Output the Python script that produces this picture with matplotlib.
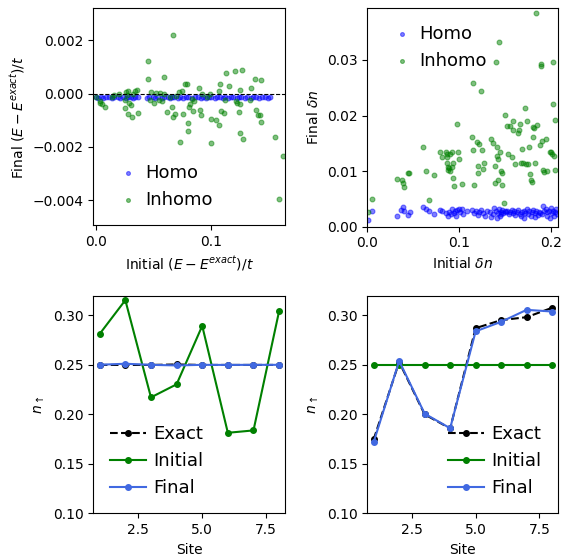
import matplotlib
matplotlib.use("Agg")
import matplotlib.pyplot as plt
import numpy as np

# ---- Top-left: energy errors ----
homo_E_init = [0.000, 0.002, 0.004, 0.006, 0.009, 0.011, 0.014, 0.016, 0.019, 0.021,
               0.023, 0.026, 0.028, 0.030, 0.032, 0.034, 0.036, 0.044, 0.046, 0.049,
               0.051, 0.054, 0.057, 0.059, 0.062, 0.064, 0.066, 0.068, 0.071, 0.073,
               0.075, 0.078, 0.080, 0.083, 0.086, 0.088, 0.091, 0.093, 0.095, 0.098,
               0.100, 0.103, 0.105, 0.107, 0.110, 0.112, 0.114, 0.117, 0.119, 0.122,
               0.124, 0.126, 0.129, 0.131, 0.134, 0.136, 0.139, 0.141, 0.144, 0.146,
               0.149, 0.151]
homo_E_final = [-0.00014, -0.00016, -0.00013, -0.00017, -0.00015, -0.00014, -0.00016, -0.00013,
                -0.00015, -0.00017, -0.00014, -0.00016, -0.00015, -0.00013, -0.00016, -0.00014,
                -0.00015, -0.00016, -0.00013, -0.00015, -0.00017, -0.00014, -0.00016, -0.00015,
                -0.00013, -0.00016, -0.00014, -0.00015, -0.00017, -0.00013, -0.00016, -0.00014,
                -0.00015, -0.00016, -0.00013, -0.00015, -0.00017, -0.00014, -0.00016, -0.00015,
                -0.00013, -0.00016, -0.00014, -0.00015, -0.00017, -0.00013, -0.00016, -0.00014,
                -0.00015, -0.00016, -0.00013, -0.00015, -0.00017, -0.00014, -0.00016, -0.00015,
                -0.00013, -0.00016, -0.00014, -0.00015, -0.00016, -0.00014]
inhomo_E_init = [0.0000, 0.0032, 0.0052, 0.0075, 0.0037, 0.0138, 0.0153, 0.0196, 0.0248, 0.0262,
                 0.0277, 0.0268, 0.0282, 0.0254, 0.0277, 0.0311, 0.0303, 0.0317, 0.0340, 0.0354,
                 0.0363, 0.0450, 0.0447, 0.0470, 0.0476, 0.0504, 0.0522, 0.0542, 0.0556, 0.0571,
                 0.0585, 0.0591, 0.0614, 0.0643, 0.0657, 0.0663, 0.0671, 0.0686, 0.0695, 0.0720,
                 0.0729, 0.0744, 0.0758, 0.0772, 0.0787, 0.0795, 0.0801, 0.0807, 0.0816, 0.0830,
                 0.0844, 0.0893, 0.0902, 0.0908, 0.0922, 0.0965, 0.0986, 0.0850, 0.1000, 0.1037,
                 0.1066, 0.0994, 0.1086, 0.1110, 0.1130, 0.1202, 0.1265, 0.1072, 0.1063, 0.1150,
                 0.1121, 0.1216, 0.1245, 0.1225, 0.1245, 0.1236, 0.1346, 0.1380, 0.1432, 0.1331,
                 0.1389, 0.1418, 0.1403, 0.1427, 0.1245, 0.1274, 0.1553, 0.1620, 0.1582]
inhomo_E_final = [-0.000125, -0.00035, -0.0004, -0.0005, -0.0003, -0.000125, -0.00004, 0.0, -0.00025, 0.00006,
                  0.0001, -0.00006, -0.000375, -0.00056, -0.00078, -0.000875, -0.00044, 0.0, 0.0001, 0.00015,
                  -0.00075, 0.00121, 0.00054, -0.00025, 0.00006, -0.00035, 0.00003, -0.00025, 0.00003, -0.0003,
                  0.000625, -0.00003, -0.00069, -0.000125, -0.000525, -0.000875, 0.00221, -0.00078, -0.0001, 0.00006,
                  -0.00181, 0.0001, -0.00078, 0.000375, 0.00035, -0.001125, -0.0014, -0.0005, -0.0004, -0.000225,
                  -0.00065, 0.000225, -0.000625, -0.00081, 0.0, -0.000125, 0.0, -0.0003, -0.00096, -0.001,
                  -0.00119, -0.001875, -0.00065, -0.000725, 0.000775, 0.00085, 0.000875, 0.00034, 0.0001, 0.0003,
                  -0.00025, -0.0003, 0.000125, -0.000375, -0.0004, -0.00071, 0.00019, 0.00056, 0.0005, -0.00025,
                  -0.000625, -0.00081, -0.00079, -0.00106, -0.0015, -0.001725, -0.00165, -0.00235, -0.003975]

# ---- Top-right: density errors ----
homo_dn_init = [0.001, 0.005, 0.032, 0.037, 0.039, 0.040, 0.044, 0.046, 0.061, 0.064,
                0.067, 0.073, 0.079, 0.081, 0.086, 0.088, 0.089, 0.091, 0.092, 0.094,
                0.095, 0.097, 0.098, 0.100, 0.101, 0.103, 0.104, 0.108, 0.114, 0.116,
                0.118, 0.120, 0.122, 0.124, 0.126, 0.128, 0.130, 0.133, 0.135, 0.137,
                0.138, 0.140, 0.141, 0.142, 0.143, 0.144, 0.145, 0.146, 0.147, 0.148,
                0.150, 0.151, 0.152, 0.154, 0.155, 0.157, 0.158, 0.160, 0.161, 0.163,
                0.164, 0.166, 0.167, 0.168, 0.170, 0.171, 0.172, 0.174, 0.175, 0.176,
                0.178, 0.179, 0.180, 0.182, 0.183, 0.184, 0.186, 0.187, 0.188, 0.190,
                0.191, 0.192, 0.194, 0.195, 0.196, 0.198, 0.199, 0.200, 0.201, 0.202,
                0.203, 0.204, 0.205, 0.206]
homo_dn_final = [0.0012, 0.0028, 0.0019, 0.0030, 0.0035, 0.0029, 0.0021, 0.0026, 0.0035, 0.0031,
                 0.0028, 0.0022, 0.0030, 0.0029, 0.0024, 0.0019, 0.0027, 0.0022, 0.0031, 0.0025,
                 0.0028, 0.0020, 0.0030, 0.0032, 0.0026, 0.0031, 0.0023, 0.0029, 0.0030, 0.0025,
                 0.0028, 0.0021, 0.0027, 0.0030, 0.0024, 0.0019, 0.0028, 0.0026, 0.0017, 0.0022,
                 0.0033, 0.0029, 0.0015, 0.0024, 0.0031, 0.0019, 0.0027, 0.0022, 0.0030, 0.0025,
                 0.0028, 0.0026, 0.0029, 0.0023, 0.0027, 0.0030, 0.0024, 0.0028, 0.0021, 0.0026,
                 0.0030, 0.0023, 0.0019, 0.0027, 0.0029, 0.0016, 0.0025, 0.0031, 0.0022, 0.0028,
                 0.0019, 0.0026, 0.0030, 0.0017, 0.0024, 0.0029, 0.0021, 0.0027, 0.0025, 0.0023,
                 0.0037, 0.0028, 0.0031, 0.0020, 0.0026, 0.0029, 0.0016, 0.0033, 0.0024, 0.0028,
                 0.0019, 0.0027, 0.0031, 0.0022]
inhomo_dn_init = [0.0011, 0.0054, 0.0319, 0.0374, 0.0385, 0.0396, 0.0446, 0.0457, 0.0610, 0.0635,
                  0.0672, 0.0726, 0.0791, 0.0809, 0.0853, 0.0864, 0.0871, 0.0900, 0.0918, 0.0936,
                  0.0918, 0.0893, 0.0882, 0.0904, 0.0864, 0.0875, 0.0936, 0.0947, 0.0973, 0.0984,
                  0.0998, 0.1031, 0.1136, 0.1147, 0.1147, 0.1162, 0.1191, 0.1201, 0.1209, 0.1220,
                  0.1238, 0.1249, 0.1263, 0.1274, 0.1343, 0.1372, 0.1390, 0.1390, 0.1401, 0.1408,
                  0.1416, 0.1426, 0.1426, 0.1437, 0.1445, 0.1452, 0.1463, 0.1470, 0.1488, 0.1499,
                  0.1524, 0.1535, 0.1554, 0.1572, 0.1583, 0.1590, 0.1608, 0.1644, 0.1655, 0.1662,
                  0.1670, 0.1684, 0.1699, 0.1717, 0.1728, 0.1735, 0.1753, 0.1764, 0.1771, 0.1782,
                  0.1790, 0.1800, 0.1808, 0.1819, 0.1826, 0.1837, 0.1851, 0.1880, 0.1887, 0.1891,
                  0.1902, 0.1917, 0.1927, 0.1946, 0.1953, 0.1989, 0.1996, 0.2007, 0.2025, 0.2025,
                  0.2033, 0.2044, 0.2047]
inhomo_dn_final = [0.00258, 0.00505, 0.00859, 0.00841, 0.00793, 0.00721, 0.00967, 0.00967, 0.01441, 0.01003,
                   0.00480, 0.00937, 0.01351, 0.01261, 0.01351, 0.01261, 0.01309, 0.01309, 0.01351, 0.01141,
                   0.01081, 0.01051, 0.01021, 0.01003, 0.01141, 0.01069, 0.00871, 0.00733, 0.01850, 0.01351,
                   0.01213, 0.00763, 0.01622, 0.02583, 0.01375, 0.00751, 0.01520, 0.00961, 0.01099, 0.01483,
                   0.02450, 0.01375, 0.01033, 0.01141, 0.01574, 0.01502, 0.01093, 0.00781, 0.02967, 0.01279,
                   0.01441, 0.01213, 0.00841, 0.03321, 0.01351, 0.01009, 0.00961, 0.00751, 0.00432, 0.02006,
                   0.01814, 0.01309, 0.01814, 0.01261, 0.01742, 0.01910, 0.01129, 0.01694, 0.01742, 0.01850,
                   0.01141, 0.01393, 0.01141, 0.02132, 0.01129, 0.01898, 0.01129, 0.01441, 0.00949, 0.00841,
                   0.00811, 0.01796, 0.01616, 0.01772, 0.01153, 0.03844, 0.01832, 0.01471, 0.02925, 0.02889,
                   0.01550, 0.01021, 0.00991, 0.01574, 0.01009, 0.01339, 0.01351, 0.01303, 0.02955, 0.02204,
                   0.01279, 0.01922, 0.01021]

# ---- Bottom: site occupations ----
sites = [1, 2, 3, 4, 5, 6, 7, 8]
homo_exact = [0.250, 0.250, 0.250, 0.2505, 0.250, 0.250, 0.250, 0.250]
homo_initial = [0.2814, 0.3155, 0.2172, 0.2304, 0.2895, 0.1814, 0.1838, 0.3044]
homo_final = [0.2502, 0.2512, 0.2501, 0.2495, 0.2501, 0.2500, 0.2501, 0.2501]
inhomo_exact = [0.1747, 0.2530, 0.2000, 0.1858, 0.2872, 0.2953, 0.2983, 0.3078]
inhomo_initial = [0.250, 0.250, 0.250, 0.250, 0.250, 0.250, 0.250, 0.250]
inhomo_final = [0.1720, 0.2540, 0.2007, 0.1860, 0.2840, 0.2936, 0.3057, 0.3040]

W, H = 561, 555
fig = plt.figure(figsize=(W / 100, H / 100), dpi=100)

def rect(l, r, t, b):
    return [l / W, 1 - b / H, (r - l) / W, (b - t) / H]

ax1 = fig.add_axes(rect(93.3, 285.0, 8.3, 225.3))
ax2 = fig.add_axes(rect(367.3, 558.0, 8.3, 226.7))
ax3 = fig.add_axes(rect(93.3, 285.0, 295.7, 513.3))
ax4 = fig.add_axes(rect(367.3, 558.0, 295.7, 513.3))

sc_kw = dict(s=12, alpha=0.5, linewidths=0.8)
sc_leg_kw = dict(frameon=False, fontsize=13, handletextpad=0.0, markerscale=0.8)
ln_leg_kw = dict(frameon=False, fontsize=13, handletextpad=0.42)

ax1.scatter(homo_E_init, homo_E_final, color='blue', label='Homo', **sc_kw)
ax1.scatter(inhomo_E_init, inhomo_E_final, color='green', label='Inhomo', **sc_kw)
ax1.axhline(0, color='black', ls='--', lw=0.8)
ax1.set_xlim(-0.0023, 0.1637)
ax1.set_ylim(-0.00495, 0.0032)
ax1.set_xticks([0.0, 0.1])
ax1.set_yticks([-0.004, -0.002, 0.0, 0.002])
ax1.set_xlabel(r'Initial $(E-E^{exact})/t$')
ax1.set_ylabel(r'Final $(E-E^{exact})/t$')
ax1.legend(loc='lower left', **sc_leg_kw)

ax2.scatter(homo_dn_init, homo_dn_final, color='blue', label='Homo', **sc_kw)
ax2.scatter(inhomo_dn_init, inhomo_dn_final, color='green', label='Inhomo', **sc_kw)
ax2.set_xlim(0, 0.2075)
ax2.set_ylim(0, 0.0393)
ax2.set_xticks([0.0, 0.1, 0.2])
ax2.set_yticks([0.0, 0.01, 0.02, 0.03])
ax2.set_xlabel(r'Initial $\delta n$')
ax2.set_ylabel(r'Final $\delta n$')
ax2.legend(loc='upper left', **sc_leg_kw)

for ax, ex, ini, fin, loc in [(ax3, homo_exact, homo_initial, homo_final, 'lower left'),
                              (ax4, inhomo_exact, inhomo_initial, inhomo_final, 'lower right')]:
    ax.plot(sites, ex, 'k--', marker='o', ms=4, label='Exact')
    ax.plot(sites, ini, color='green', marker='o', ms=4, label='Initial')
    ax.plot(sites, fin, color='royalblue', marker='o', ms=4, label='Final')
    ax.set_xlim(0.75, 8.23)
    ax.set_ylim(0.1, 0.32)
    ax.set_xticks([2.5, 5.0, 7.5])
    ax.set_yticks([0.10, 0.15, 0.20, 0.25, 0.30])
    ax.set_xlabel('Site')
    ax.set_ylabel(r'$n_\uparrow$')
    ax.legend(loc=loc, **ln_leg_kw)

fig.savefig('out.png', dpi=100)
